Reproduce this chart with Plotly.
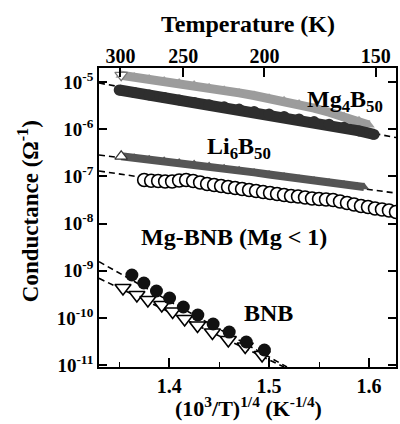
import plotly.graph_objects as go

# ---------------- data (x = (10^3/T)^(1/4), y = log10 conductance) ----------------
mg4_circ_x = [1.350, 1.365, 1.380, 1.395, 1.410, 1.425, 1.440, 1.455, 1.470,
              1.485, 1.500, 1.515, 1.530, 1.545, 1.560, 1.575, 1.590, 1.605]
mg4_circ_logy = [-5.169, -5.220, -5.273, -5.326, -5.379, -5.432, -5.479, -5.525, -5.572,
                 -5.623, -5.676, -5.729, -5.782, -5.839, -5.894, -5.960, -6.036, -6.110]

mg4_tri_x = [1.352, 1.365, 1.380, 1.395, 1.410, 1.425, 1.440, 1.455, 1.470,
             1.485, 1.500, 1.515, 1.530, 1.545, 1.560, 1.575, 1.590, 1.600]
mg4_tri_logy = [-4.856, -4.892, -4.934, -4.977, -5.019, -5.061, -5.119, -5.174, -5.231,
                -5.286, -5.342, -5.397, -5.464, -5.553, -5.640, -5.729, -5.818, -5.913]

li6_x = [1.352, 1.365, 1.380, 1.395, 1.410, 1.425, 1.440, 1.455, 1.470,
         1.485, 1.500, 1.515, 1.530, 1.545, 1.560, 1.575, 1.588, 1.595]
li6_logy = [-6.574, -6.604, -6.638, -6.670, -6.703, -6.735, -6.782, -6.826, -6.871,
            -6.915, -6.960, -7.004, -7.049, -7.089, -7.131, -7.172, -7.208, -7.225]

mgbnb_x = [1.375, 1.382, 1.389, 1.396, 1.403, 1.410, 1.417, 1.424, 1.431, 1.438,
           1.445, 1.452, 1.459, 1.466, 1.473, 1.480, 1.487, 1.494, 1.501, 1.508,
           1.515, 1.522, 1.529, 1.536, 1.543, 1.550, 1.557, 1.564, 1.571, 1.578,
           1.585, 1.592, 1.599, 1.606, 1.613, 1.620, 1.627]
mgbnb_logy = [-7.076, -7.093, -7.097, -7.108, -7.108, -7.087, -7.076, -7.097, -7.129, -7.161,
              -7.182, -7.203, -7.225, -7.246, -7.267, -7.288, -7.309, -7.331, -7.352, -7.373,
              -7.394, -7.415, -7.426, -7.447, -7.468, -7.479, -7.489, -7.500, -7.532, -7.564,
              -7.595, -7.627, -7.648, -7.680, -7.701, -7.722, -7.754]

bnb_circ_x = [1.3627, 1.3747, 1.3873, 1.4004, 1.4142, 1.4287, 1.4440, 1.4601, 1.4772, 1.4953]
bnb_circ_logy = [-9.089, -9.258, -9.428, -9.576, -9.767, -9.936, -10.127, -10.297, -10.508, -10.678]

bnb_tri_x = [1.3538, 1.3677, 1.3787, 1.3926, 1.4035, 1.4155, 1.4284, 1.4433, 1.4592, 1.4761, 1.4930]
bnb_tri_logy = [-9.364, -9.513, -9.619, -9.725, -9.862, -10.021, -10.159, -10.307, -10.466, -10.604, -10.784]

# fitted dashed lines (two end points each)
fit_mg4_x, fit_mg4_logy = [1.3298, 1.627], [-5.021, -6.176]
fit_li6_x, fit_li6_logy = [1.3298, 1.627], [-6.547, -7.352]
fit_mgbnb_x, fit_mgbnb_logy = [1.3298, 1.627], [-6.886, -7.797]
fit_bnb1_x, fit_bnb1_logy = [1.3298, 1.5179], [-8.807, -11.038]
fit_bnb2_x, fit_bnb2_logy = [1.3298, 1.5149], [-9.159, -11.038]

temp_ticks = [300, 250, 200, 150]
y_exps = [-5, -6, -7, -8, -9, -10, -11]
x_ticks = [1.4, 1.5, 1.6]

FONT = "Liberation Serif"


def pw(lst):
    return [10 ** v for v in lst]


fig = go.Figure()

# dashed fits (under markers)
for fx, fy in [(fit_mg4_x, fit_mg4_logy), (fit_li6_x, fit_li6_logy),
               (fit_mgbnb_x, fit_mgbnb_logy), (fit_bnb1_x, fit_bnb1_logy),
               (fit_bnb2_x, fit_bnb2_logy)]:
    fig.add_trace(go.Scatter(x=fx, y=pw(fy), mode="lines",
                             line=dict(color="black", width=1.6, dash="6px,4px"),
                             showlegend=False, hoverinfo="skip"))

# Mg4B50 grey triangles (dense band)
fig.add_trace(go.Scatter(x=mg4_tri_x, y=pw(mg4_tri_logy), mode="lines+markers",
                         line=dict(color="#9c9c9c", width=9),
                         marker=dict(symbol="triangle-up", size=10, color="#9c9c9c",
                                     line=dict(width=0)),
                         showlegend=False))
fig.add_trace(go.Scatter(x=mg4_tri_x[:1], y=pw(mg4_tri_logy[:1]), mode="markers",
                         marker=dict(symbol="triangle-down", size=11, color="white",
                                     line=dict(width=1.2, color="#777")),
                         showlegend=False))

# Mg4B50 black circles (dense band)
fig.add_trace(go.Scatter(x=mg4_circ_x, y=pw(mg4_circ_logy), mode="lines+markers",
                         line=dict(color="#2e2e2e", width=11),
                         marker=dict(symbol="circle", size=11, color="#2e2e2e",
                                     line=dict(width=0)),
                         showlegend=False))

# Li6B50 triangles (dense band)
fig.add_trace(go.Scatter(x=li6_x, y=pw(li6_logy), mode="lines+markers",
                         line=dict(color="#555555", width=8),
                         marker=dict(symbol="triangle-up", size=9, color="#555555",
                                     line=dict(width=0)),
                         showlegend=False))
fig.add_trace(go.Scatter(x=li6_x[:1], y=pw(li6_logy[:1]), mode="markers",
                         marker=dict(symbol="triangle-up", size=11, color="white",
                                     line=dict(width=1.2, color="#333")),
                         showlegend=False))

# Mg-BNB open circles
fig.add_trace(go.Scatter(x=mgbnb_x, y=pw(mgbnb_logy), mode="markers",
                         marker=dict(symbol="circle", size=13, color="white",
                                     line=dict(width=1.6, color="black")),
                         cliponaxis=True, showlegend=False))

# BNB open inverted triangles, then filled circles on top
fig.add_trace(go.Scatter(x=bnb_tri_x, y=pw(bnb_tri_logy), mode="markers",
                         marker=dict(symbol="triangle-down", size=14, color="white",
                                     line=dict(width=1.6, color="black")),
                         showlegend=False))
fig.add_trace(go.Scatter(x=bnb_circ_x, y=pw(bnb_circ_logy), mode="markers",
                         marker=dict(symbol="circle", size=13, color="#111",
                                     line=dict(width=0)),
                         showlegend=False))

# dummy trace to activate the top temperature axis
fig.add_trace(go.Scatter(x=[1.5], y=[None], xaxis="x2", yaxis="y", mode="markers",
                         showlegend=False, hoverinfo="skip"))

xr = [1.3298, 1.627]
tick_font = dict(family=FONT, size=20, color="black", weight="bold")

fig.update_layout(
    width=400, height=424,
    margin=dict(l=99, r=2, t=68, b=57),
    paper_bgcolor="white", plot_bgcolor="white",
    showlegend=False,
    xaxis=dict(range=xr, tickvals=x_ticks, ticktext=[f"{v:.1f}" for v in x_ticks],
               ticks="inside", ticklen=9, tickwidth=1.5, tickcolor="black",
               minor=dict(dtick=0.05, tick0=1.35, ticks="inside", ticklen=5,
                          tickwidth=1.2, tickcolor="black"),
               showline=True, linecolor="black", linewidth=1.6, mirror=True,
               showgrid=False, zeroline=False, tickfont=tick_font),
    xaxis2=dict(range=xr, overlaying="x", side="top", anchor="y",
                tickvals=[(1000.0 / t) ** 0.25 for t in temp_ticks],
                ticktext=[str(t) for t in temp_ticks],
                ticks="inside", ticklen=9, tickwidth=1.5, tickcolor="black",
                showline=False, showgrid=False, zeroline=False, tickfont=tick_font),
    yaxis=dict(type="log", range=[-11.038, -4.703],
               tickvals=[10 ** e for e in y_exps],
               ticktext=[f"10<sup>{e}</sup>" for e in y_exps],
               ticks="inside", ticklen=8, tickwidth=1.5, tickcolor="black",
               showline=True, linecolor="black", linewidth=1.6, mirror="ticks",
               showgrid=False, zeroline=False,
               tickfont=dict(family=FONT, size=19, color="black", weight="bold")),
)

ann_font = dict(family=FONT, size=24, color="black", weight="bold")
annotations = [
    dict(text="Temperature (K)", x=0.502, y=1.147, yanchor="middle",
         font=dict(family=FONT, size=24, color="black", weight="bold")),
    dict(text="(10<sup>3</sup>/T)<sup>1/4</sup> (K<sup>-1/4</sup>)", x=0.502, y=-0.188,
         yanchor="bottom",
         font=dict(family=FONT, size=22, color="black", weight="bold")),
    dict(text="Conductance (Ω<sup>-1</sup>)", x=-0.237, y=0.52, textangle=-90,
         yanchor="middle",
         font=dict(family=FONT, size=23, color="black", weight="bold")),
    dict(text="Mg<sub>4</sub>B<sub>50</sub>", x=0.829, y=0.89, yanchor="middle", font=ann_font),
    dict(text="Li<sub>6</sub>B<sub>50</sub>", x=0.472, y=0.733, yanchor="middle", font=ann_font),
    dict(text="Mg-BNB (Mg < 1)", x=0.455, y=0.435, yanchor="middle", font=ann_font),
    dict(text="BNB", x=0.572, y=0.181, yanchor="middle", font=ann_font),
]
for a in annotations:
    fig.add_annotation(xref="paper", yref="paper", showarrow=False,
                       xanchor="center", **a)

fig.write_html("out.html",
               config={"displayModeBar": False},
               post_script="document.body.style.margin='0';document.body.style.overflow='hidden';")
